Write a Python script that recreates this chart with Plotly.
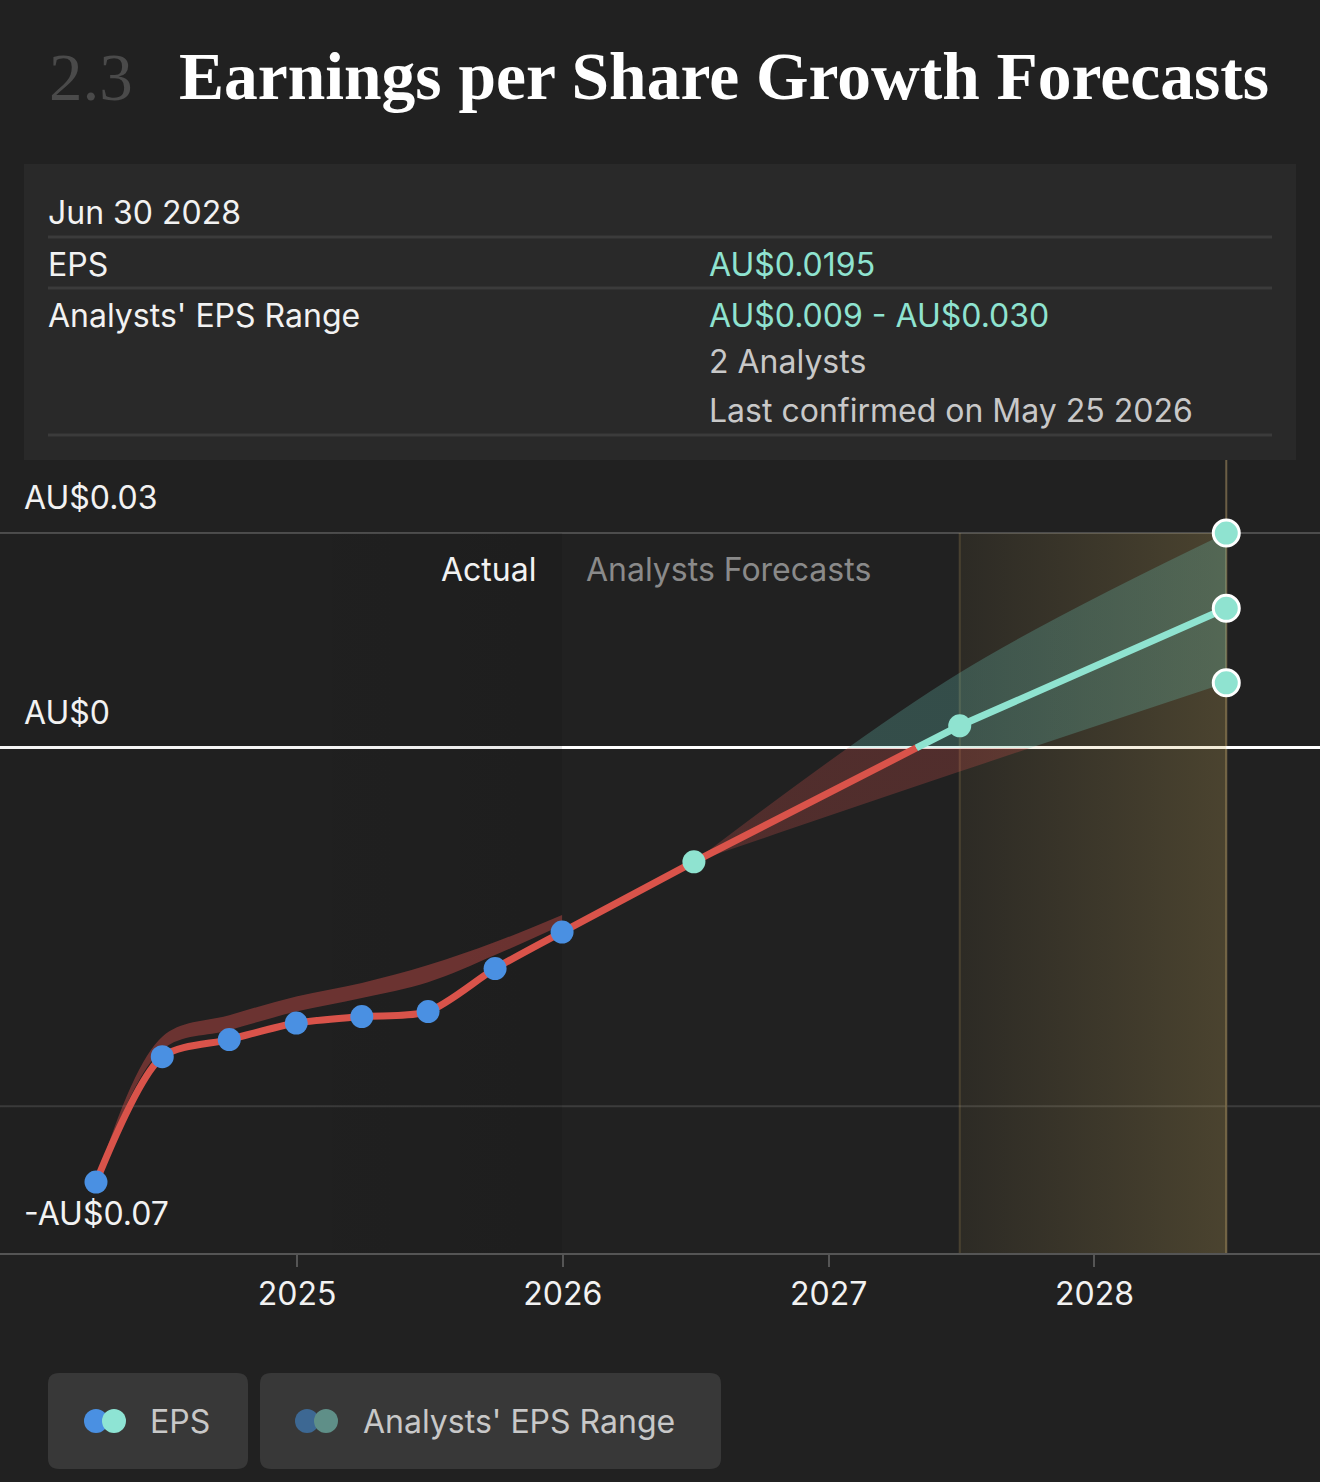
import plotly.graph_objects as go
import pandas as pd

W, H = 1320, 1482

# ---------------- data ----------------
actual_dates = ["2024-03-31", "2024-06-30", "2024-09-30", "2024-12-31",
                "2025-03-31", "2025-06-30", "2025-09-30", "2025-12-31"]
actual_eps = [-0.0606, -0.0431, -0.0407, -0.0384, -0.0375, -0.0368, -0.0308, -0.0257]

past_range_low = [-0.0606, -0.0421, -0.0394, -0.0368, -0.0349, -0.0327, -0.0289, -0.0247]
past_range_high = [-0.0606, -0.0403, -0.0373, -0.0347, -0.0328, -0.0303, -0.0271, -0.0233]

forecast_dates = ["2025-12-31", "2026-06-30", "2027-06-30", "2028-06-30"]
forecast_eps = [-0.0257, -0.0159, 0.0031, 0.0195]

range_dates = ["2026-06-30", "2027-06-30", "2028-06-30"]
range_low = [-0.0159, -0.0033, 0.0091]
range_high = [-0.0159, 0.0105, 0.0300]

year_ticks = ["2025-01-01", "2026-01-01", "2027-01-01", "2028-01-01"]
year_labels = ["2025", "2026", "2027", "2028"]

grid_vals = [0.03, -0.05]
label_vals = [0.03, 0.0, -0.07]
label_texts = ["AU$0.03", "AU$0", "-AU$0.07"]

# ---------------- styling ----------------
BG = "#212121"
RED = "#d9534a"
TEAL = "#8fe3d0"
BLUE = "#4a90e2"
FONT = "Inter"
SERIF = "Liberation Serif"
FS = 32

def px(x):
    return x / W

def py(y):
    return 1 - y / H

y_min, y_max = -0.0705, 0.0402
base = pd.Timestamp("2025-01-01")
x_left = base - pd.Timedelta(days=365.25 * 297 / 266)
x_right = base + pd.Timedelta(days=365.25 * (W - 297) / 266)

fig = go.Figure()

# darker "actual" region
fig.add_trace(go.Scatter(
    x=[x_left, pd.Timestamp(actual_dates[-1]), pd.Timestamp(actual_dates[-1]), x_left],
    y=[y_min, y_min, 0.03, 0.03], fill="toself", mode="none",
    fillgradient=dict(type="horizontal",
                      colorscale=[[0, "rgba(0,0,0,0.04)"], [0.55, "rgba(0,0,0,0.04)"],
                                  [1, "rgba(0,0,0,0.1)"]]),
    hoverinfo="skip", showlegend=False))

# highlighted forecast year
fig.add_trace(go.Scatter(
    x=[range_dates[1], range_dates[2], range_dates[2], range_dates[1]],
    y=[y_min, y_min, 0.03, 0.03], fill="toself", mode="none",
    fillgradient=dict(type="horizontal",
                      colorscale=[[0, "rgba(200,170,90,0.07)"], [1, "rgba(200,170,90,0.25)"]]),
    hoverinfo="skip", showlegend=False))

# past analysts range band
fig.add_trace(go.Scatter(x=actual_dates, y=past_range_low, mode="lines",
                         line=dict(width=0, shape="spline"), hoverinfo="skip", showlegend=False))
fig.add_trace(go.Scatter(x=actual_dates, y=past_range_high, mode="lines",
                         line=dict(width=0, shape="spline"), fill="tonexty",
                         fillcolor="rgba(200,75,70,0.45)", hoverinfo="skip", showlegend=False))

# forecast range band (red below zero, teal above)
zf = (0 - y_min) / (y_max - y_min)
fig.add_trace(go.Scatter(x=range_dates, y=range_low, mode="lines",
                         line=dict(width=0, shape="spline"), hoverinfo="skip", showlegend=False))
fig.add_trace(go.Scatter(
    x=range_dates, y=range_high, mode="lines", line=dict(width=0, shape="spline"),
    fill="tonexty",
    fillgradient=dict(type="vertical", start=y_min, stop=y_max,
                      colorscale=[[0, "rgba(210,80,75,0.27)"], [zf, "rgba(210,80,75,0.27)"],
                                  [zf, "rgba(110,210,195,0.25)"], [1, "rgba(110,210,195,0.25)"]]),
    hoverinfo="skip", showlegend=False))

# actual EPS line
fig.add_trace(go.Scatter(x=actual_dates, y=actual_eps, mode="lines",
                         line=dict(color=RED, width=7, shape="spline", smoothing=0.8),
                         hoverinfo="skip", showlegend=False))

# forecast line split at zero
t0, t1 = pd.Timestamp(forecast_dates[1]), pd.Timestamp(forecast_dates[2])
v0, v1 = forecast_eps[1], forecast_eps[2]
t_cross = t0 + (t1 - t0) * (-v0 / (v1 - v0))
fig.add_trace(go.Scatter(x=[pd.Timestamp(d) for d in forecast_dates[:2]] + [t_cross],
                         y=forecast_eps[:2] + [0.0], mode="lines",
                         line=dict(color=RED, width=7), hoverinfo="skip", showlegend=False))
fig.add_trace(go.Scatter(x=[t_cross] + [pd.Timestamp(d) for d in forecast_dates[2:]],
                         y=[0.0] + forecast_eps[2:], mode="lines",
                         line=dict(color=TEAL, width=7), hoverinfo="skip", showlegend=False))

# markers
fig.add_trace(go.Scatter(x=actual_dates, y=actual_eps, mode="markers",
                         marker=dict(color=BLUE, size=23, line=dict(width=0)),
                         hoverinfo="skip", showlegend=False))
fig.add_trace(go.Scatter(x=forecast_dates[1:3], y=forecast_eps[1:3], mode="markers",
                         marker=dict(color=TEAL, size=23, line=dict(width=0)),
                         hoverinfo="skip", showlegend=False))
fig.add_trace(go.Scatter(x=[forecast_dates[3]] * 3,
                         y=[range_high[2], forecast_eps[3], range_low[2]], mode="markers",
                         marker=dict(color=TEAL, size=26, line=dict(width=3, color="#ffffff")),
                         hoverinfo="skip", showlegend=False))

shapes = []
# gridlines
for v, c in zip(grid_vals, ["#4d4d4d", "#3c3c3c"]):
    shapes.append(dict(type="line", xref="paper", yref="y", x0=0, x1=1, y0=v, y1=v,
                       line=dict(color=c, width=2), layer="below"))
# vertical marker lines
shapes.append(dict(type="line", xref="x", yref="y", x0=range_dates[1], x1=range_dates[1],
                   y0=y_min, y1=0.03, line=dict(color="rgba(200,170,100,0.22)", width=2),
                   layer="below"))
shapes.append(dict(type="line", xref="x", yref="y domain", x0=range_dates[2], x1=range_dates[2],
                   y0=0, y1=1, line=dict(color="#6b5e45", width=2), layer="below"))

# tooltip box
shapes.append(dict(type="rect", xref="paper", yref="paper", x0=px(24), x1=px(1296),
                   y0=py(460), y1=py(164), fillcolor="#292929", line=dict(width=0), layer="below"))
for yy in [237, 288, 435]:
    shapes.append(dict(type="line", xref="paper", yref="paper", x0=px(48), x1=px(1272),
                       y0=py(yy), y1=py(yy), line=dict(color="#3b3b3b", width=3)))


def rrect(x0, y0, x1, y1, r):
    rx, ry = r / W, r / H
    X0, X1, Y0, Y1 = px(x0), px(x1), py(y1), py(y0)
    return (f"M {X0 + rx},{Y0} L {X1 - rx},{Y0} Q {X1},{Y0} {X1},{Y0 + ry} "
            f"L {X1},{Y1 - ry} Q {X1},{Y1} {X1 - rx},{Y1} L {X0 + rx},{Y1} "
            f"Q {X0},{Y1} {X0},{Y1 - ry} L {X0},{Y0 + ry} Q {X0},{Y0} {X0 + rx},{Y0} Z")


def circle(cx, cy, r, color):
    return dict(type="circle", xref="paper", yref="paper", x0=px(cx - r), x1=px(cx + r),
                y0=py(cy + r), y1=py(cy - r), fillcolor=color, line=dict(width=0))


# legend buttons
shapes.append(dict(type="path", xref="paper", yref="paper", path=rrect(48, 1373, 248, 1469, 11),
                   fillcolor="#383838", line=dict(width=0)))
shapes.append(dict(type="path", xref="paper", yref="paper", path=rrect(260, 1373, 721, 1469, 11),
                   fillcolor="#383838", line=dict(width=0)))
shapes.append(circle(96, 1421, 12, BLUE))
shapes.append(circle(114, 1421, 12, "#8ee4d4"))
shapes.append(circle(307, 1421, 12, "#3d6893"))
shapes.append(circle(326, 1421, 12, "#5f8f88"))

annotations = []


def txt(text, x, y, size, color, family=FONT, anchor="left", weight=None):
    f = dict(family=family, size=size, color=color)
    if weight:
        f["weight"] = weight
    annotations.append(dict(text=text, xref="paper", yref="paper", x=px(x), y=py(y),
                            xanchor=anchor, yanchor="middle", showarrow=False, font=f))


# title
txt("2.3", 47, 77, 67, "#4a4a4a", family=SERIF)
txt("Earnings per Share Growth Forecasts", 177, 77, 67.5, "#ffffff", family=SERIF, weight=700)

# tooltip text
txt("Jun 30 2028", 46, 212, FS, "#f2f2f2")
txt("EPS", 46, 264, FS, "#f2f2f2")
txt("AU$0.0195", 707, 264, FS, TEAL)
txt("Analysts' EPS Range", 46, 315, FS, "#f2f2f2")
txt("AU$0.009 - AU$0.030", 707, 315, FS, TEAL)
txt("2 Analysts", 707, 362, FS, "#c8c8c8")
txt("Last confirmed on May 25 2026", 707, 410, FS, "#c8c8c8")

# y labels (tied to axis values)
for v, t in zip(label_vals, label_texts):
    annotations.append(dict(text=t, xref="paper", yref="y", x=px(22), y=v, xanchor="left",
                            yanchor="bottom", yshift=14, showarrow=False,
                            font=dict(family=FONT, size=FS, color="#f2f2f2")))

# region labels
annotations.append(dict(text="Actual", xref="x", yref="paper", x=actual_dates[-1], y=py(569),
                        xanchor="right", yanchor="middle", xshift=-24, showarrow=False,
                        font=dict(family=FONT, size=FS, color="#f2f2f2")))
annotations.append(dict(text="Analysts Forecasts", xref="x", yref="paper", x=actual_dates[-1],
                        y=py(569), xanchor="left", yanchor="middle", xshift=22, showarrow=False,
                        font=dict(family=FONT, size=FS, color="#8a8a8a")))

# legend text
txt("EPS", 148, 1421, FS, "#c8c8c8")
txt("Analysts' EPS Range", 361, 1421, FS, "#c8c8c8")

fig.update_layout(
    template="none",
    width=W, height=H,
    margin=dict(l=0, r=0, t=0, b=0),
    paper_bgcolor=BG, plot_bgcolor="rgba(0,0,0,0)",
    showlegend=False,
    shapes=shapes, annotations=annotations,
    xaxis=dict(type="date", range=[x_left, x_right], domain=[0, 1], automargin=False,
               showgrid=False, zeroline=False, showline=True, linecolor="#555555", linewidth=2,
               ticks="outside", ticklen=12, tickwidth=2, tickcolor="#555555",
               tickvals=year_ticks, ticktext=year_labels, ticklabelstandoff=0,
               tickfont=dict(family=FONT, size=FS, color="#f2f2f2"), fixedrange=True),
    yaxis=dict(range=[y_min, y_max], domain=[py(1253), py(460)], automargin=False,
               showticklabels=False, showgrid=False, ticks="",
               zeroline=True, zerolinecolor="#ffffff", zerolinewidth=2.5, showline=False,
               fixedrange=True),
)

fig.write_html("out.html")
